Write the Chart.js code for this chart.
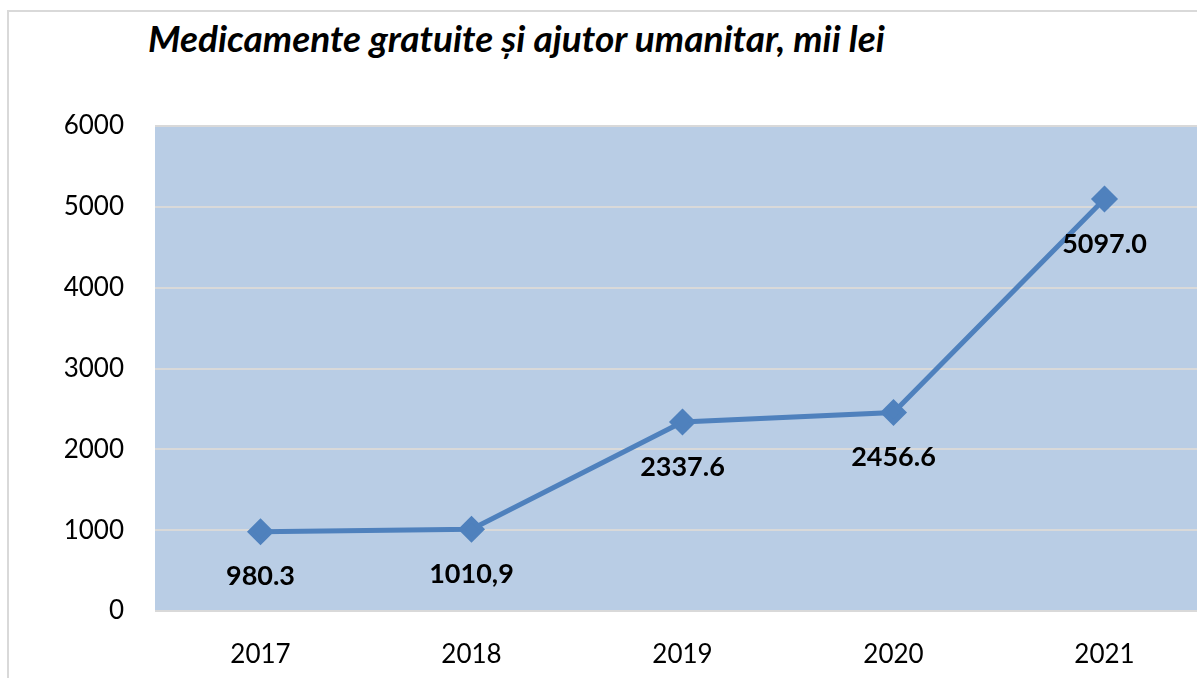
<!DOCTYPE html>
<html>
<head>
<meta charset="utf-8">
<script src="https://cdn.jsdelivr.net/npm/chart.js@4"></script>
<style>
  html, body { margin: 0; padding: 0; background: #fff; overflow: hidden; width: 1197px; height: 678px; }
  #frame { position: absolute; left: 7px; top: 10px; width: 1300px; height: 760px; border: 2px solid #d9d9d9; box-sizing: border-box; }
  #title { position: absolute; left: 148px; top: 19px; font: italic bold 37px Lato, sans-serif; line-height: 1; color: #000; white-space: nowrap; }
  #chart { position: absolute; left: 0; top: 0; }
</style>
</head>
<body>
<div id="frame"></div>
<div id="title">Medicamente gratuite și ajutor umanitar, mii lei</div>
<canvas id="chart" width="1225" height="678"></canvas>
<script>
// Chart data
const years = ['2017', '2018', '2019', '2020', '2021'];
const values = [980.3, 1010.9, 2337.6, 2456.6, 5097.0];
const valueLabels = ['980.3', '1010,9', '2337.6', '2456.6', '5097.0'];
const yTicks = [0, 1000, 2000, 3000, 4000, 5000, 6000];

const COLORS = {
    line: '#4f81bd',
    plotBg: '#b9cde5',
    grid: '#d9d9d9',
    text: '#000000'
};

// Fill the plot area
const plotBackground = {
    id: 'plotBackground',
    beforeDraw(chart) {
        const { ctx, chartArea: a } = chart;
        ctx.save();
        ctx.fillStyle = COLORS.plotBg;
        ctx.fillRect(a.left, a.top, a.right - a.left, a.bottom - a.top);
        ctx.restore();
    }
};

// Bold value labels under each point
const valueLabelsPlugin = {
    id: 'valueLabels',
    afterDatasetsDraw(chart) {
        const { ctx } = chart;
        const meta = chart.getDatasetMeta(0);
        ctx.save();
        ctx.font = 'bold 27px Lato, sans-serif';
        ctx.fillStyle = COLORS.text;
        ctx.textAlign = 'center';
        ctx.textBaseline = 'middle';
        meta.data.forEach((pt, i) => {
            ctx.fillText(valueLabels[i], pt.x, pt.y + 45);
        });
        ctx.restore();
    }
};

new Chart(document.getElementById('chart'), {
    type: 'line',
    data: {
        labels: years,
        datasets: [{
            data: values,
            borderColor: COLORS.line,
            backgroundColor: COLORS.line,
            borderWidth: 5,
            tension: 0,
            pointStyle: 'rectRot',
            pointRadius: 10,
            pointHoverRadius: 10,
            pointBackgroundColor: COLORS.line,
            pointBorderColor: COLORS.line
        }]
    },
    options: {
        responsive: false,
        animation: false,
        layout: { padding: { top: 126, right: 3, bottom: 0, left: 0 } },
        plugins: {
            legend: { display: false },
            tooltip: { enabled: false }
        },
        scales: {
            x: {
                offset: true,
                grid: { display: false, drawTicks: false },
                border: { display: false },
                ticks: { color: COLORS.text, font: { family: 'Lato', size: 26 }, padding: 28 },
                afterFit: s => { s.height = 67; }
            },
            y: {
                min: 0,
                max: 6000,
                afterBuildTicks: s => { s.ticks = yTicks.map(v => ({ value: v })); },
                grid: { color: COLORS.grid, lineWidth: 2, drawTicks: false },
                border: { display: false },
                ticks: {
                    color: COLORS.text,
                    font: { family: 'Lato', size: 26 },
                    padding: 31,
                    callback: v => String(v)
                },
                afterFit: s => { s.width = 155; }
            }
        }
    },
    plugins: [plotBackground, valueLabelsPlugin]
});
</script>
</body>
</html>
